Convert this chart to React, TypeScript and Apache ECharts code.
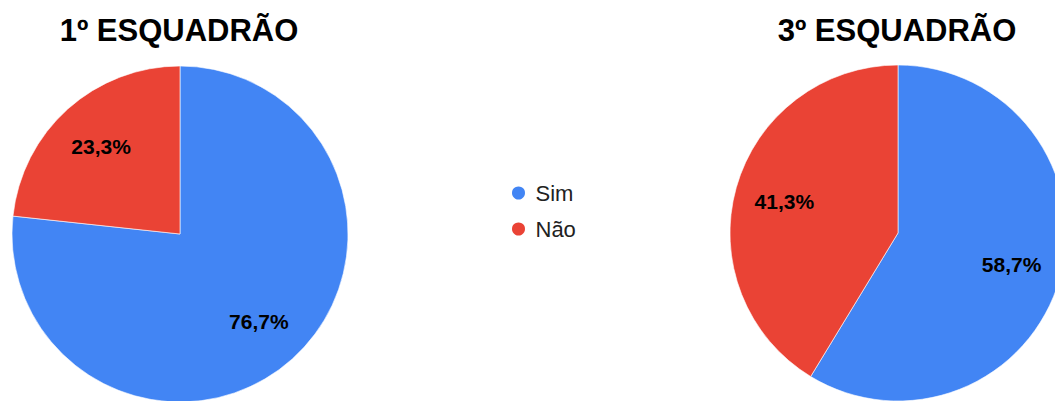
import React, { useEffect, useRef } from "react";
import * as echarts from "echarts";

const categories = ["Sim", "Não"];
const colors = ["#4285F4", "#EA4335"];
const titles = ["1º ESQUADRÃO", "3º ESQUADRÃO"];
const values1 = [76.7, 23.3];
const values3 = [58.7, 41.3];

const FONT = "'Liberation Sans', Arial, sans-serif";

function fmt(p: any) {
  return `${Number(p.value).toFixed(1).replace(".", ",")}%`;
}

function makeData(vals: number[]) {
  return categories.map((c, i) => ({ name: c, value: vals[i], itemStyle: { color: colors[i] } }));
}

export default function App() {
  const ref = useRef<HTMLDivElement>(null);
  useEffect(() => {
    if (!ref.current) return;
    const chart = echarts.init(ref.current, undefined, { renderer: "svg" });
    const centers: [number, number][] = [
      [180, 234],
      [898, 233],
    ];
    const datasets = [values1, values3];
    const series: any[] = [];
    datasets.forEach((vals, k) => {
      series.push({
        type: "pie",
        center: centers[k],
        radius: [0, 168],
        startAngle: 90,
        clockwise: true,
        data: makeData(vals),
        label: { show: false },
        labelLine: { show: false },
        itemStyle: { borderColor: "#ffffff", borderWidth: 0.6 },
        emphasis: { disabled: true },
        silent: true,
      });
      series.push({
        type: "pie",
        center: centers[k],
        radius: [62, 168],
        startAngle: 90,
        clockwise: true,
        data: categories.map((c, i) => ({ name: c, value: vals[i] })),
        itemStyle: { color: "rgba(0,0,0,0)" },
        label: {
          show: true,
          position: "inside",
          formatter: fmt,
          color: "#000000",
          fontFamily: FONT,
          fontWeight: "bold",
          fontSize: 21,
        },
        labelLine: { show: false },
        emphasis: { disabled: true },
        silent: true,
        legendHoverLink: false,
      });
    });
    chart.setOption({
      animation: false,
      backgroundColor: "#ffffff",
      title: titles.map((t, k) => ({
        text: t,
        left: centers[k][0] - 1,
        top: 15,
        padding: 0,
        textAlign: "center",
        textStyle: { fontFamily: FONT, fontWeight: "bold", fontSize: 31, color: "#000000" },
      })),
      legend: {
        orient: "vertical",
        left: 510,
        top: 182,
        data: categories,
        icon: "circle",
        itemWidth: 24,
        itemHeight: 15,
        itemGap: 14,
        padding: 0,
        textStyle: { fontFamily: FONT, fontSize: 22, color: "#222222", lineHeight: 22 },
        selectedMode: false,
      },
      series,
    });
    return () => chart.dispose();
  }, []);
  return (
    <div
      ref={ref}
      style={{ position: "absolute", left: 0, top: 0, width: 1055, height: 401 }}
    />
  );
}
